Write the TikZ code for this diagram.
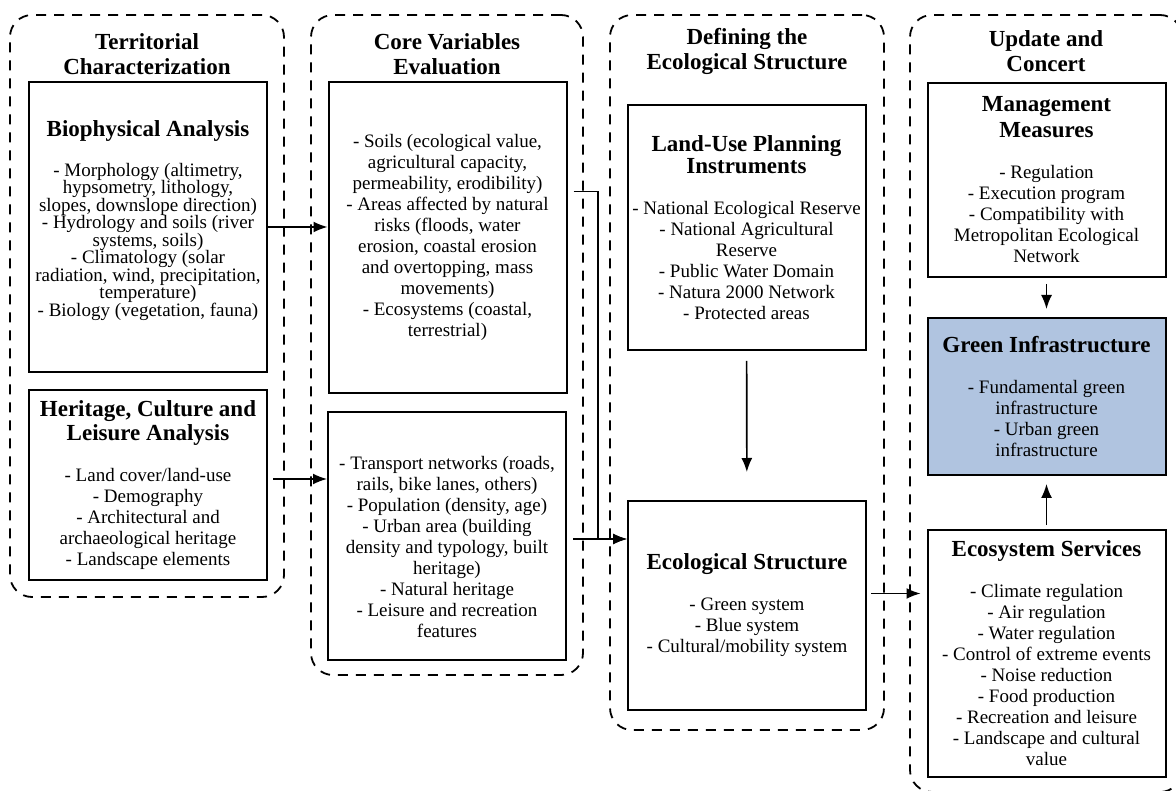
\documentclass[tikz,border=0pt]{standalone}
\usepackage{fontspec}
\setmainfont{Liberation Serif}
\usetikzlibrary{arrows.meta}
\definecolor{giblue}{RGB}{176,196,224}
\tikzset{
  stage/.style={draw, dash pattern=on 10pt off 8pt, line width=1.8pt, rounded corners=22pt},
  title/.style={align=center, font=\fontsize{23}{25}\selectfont\bfseries},
  card/.style={draw, line width=2pt, align=center, inner sep=3pt,
    minimum width=238pt, font=\fontsize{19}{21}\selectfont},
  link/.style={-{Latex[length=14pt,width=11pt]}, line width=1.6pt},
}
\newcommand{\hd}[1]{{\fontsize{23}{25}\selectfont\bfseries #1}}
\newcommand{\tightlines}{\fontsize{19}{17.5}\selectfont\lineskiplimit=-20pt\relax\lineskip=0pt\relax}
\begin{document}
\begin{tikzpicture}[x=1pt,y=-1pt]
    \useasboundingbox (0,0) rectangle (1176,791);
    % dashed stage frames
    \node[stage, minimum width=274pt, minimum height=582pt] (st1) at (147,306) {};
    \node[stage, minimum width=272pt, minimum height=660pt] (st2) at (447,345) {};
    \node[stage, minimum width=274pt, minimum height=715pt] (st3) at (747,372.5) {};
    \node[stage, minimum width=272pt, minimum height=777pt] (st4) at (1046,403.5) {};
    \node[title] (t1) at (147,54) {Territorial\\Characterization};
    \node[title] (t2) at (447,54) {Core Variables\\Evaluation};
    \node[title] (t3) at (747,51) {Defining the\\Ecological Structure};
    \node[title] (t4) at (1046,51) {Update and\\Concert};
    % stage 1
    \node[card, minimum height=290pt, font=\tightlines] (bio) at (148,227) {\hd{Biophysical Analysis}\\[22pt]
        - Morphology (altimetry,\\ hypsometry, lithology,\\ slopes, downslope direction)\\
        - Hydrology and soils (river\\ systems, soils)\\ - Climatology (solar\\
        radiation, wind, precipitation,\\ temperature)\\ - Biology (vegetation, fauna)\\[-1pt]\mbox{}};
    \node[card, minimum height=190pt] (her) at (148,485) {\hd{Heritage, Culture and}\\[2pt] \hd{Leisure Analysis}\\[20pt]
        - Land cover/land-use\\ - Demography\\ - Architectural and\\ archaeological heritage\\ - Landscape elements};
    % stage 2
    \node[card, minimum height=311pt] (soil) at (447.5,237.5) {- Soils (ecological value,\\ agricultural capacity,\\
        permeability, erodibility)\\ - Areas affected by natural\\ risks (floods, water\\ erosion, coastal erosion\\
        and overtopping, mass\\ movements)\\ - Ecosystems (coastal,\\ terrestrial)};
    \node[card, minimum height=248pt] (soc) at (447,536) {\mbox{}\\[15pt] - Transport networks (roads,\\ rails, bike lanes, others)\\
        - Population (density, age)\\ - Urban area (building\\ density and typology, built\\ heritage)\\
        - Natural heritage\\ - Leisure and recreation\\ features};
    % stage 3
    \node[card, minimum height=245pt] (lup) at (746.5,227.5) {\hd{Land-Use Planning}\\[1pt] \hd{Instruments}\\[20pt]
        - National Ecological Reserve\\ - National Agricultural\\ Reserve\\ - Public Water Domain\\
        - Natura 2000 Network\\ - Protected areas};
    \node[card, minimum height=209pt] (eco) at (747,605.5) {\hd{Ecological Structure}\\[20pt]
        - Green system\\ - Blue system\\ - Cultural/mobility system};
    % stage 4
    \node[card, minimum height=194pt] (mgmt) at (1046.5,180) {\hd{Management}\\[5pt] \hd{Measures}\\[20pt]
        - Regulation\\ - Execution program\\ - Compatibility with\\ Metropolitan Ecological\\ Network};
    \node[card, minimum height=157pt, fill=giblue] (gi) at (1046.5,396.5) {\hd{Green Infrastructure}\\[20pt]
        - Fundamental green\\ infrastructure\\ - Urban green\\ infrastructure};
    \node[card, minimum height=247pt] (es) at (1046.5,653.5) {\hd{Ecosystem Services}\\[20pt]
        - Climate regulation\\ - Air regulation\\ - Water regulation\\ - Control of extreme events\\
        - Noise reduction\\ - Food production\\ - Recreation and leisure\\ - Landscape and cultural\\ value};
    % connectors
    \coordinate (join) at (598,539);
    \draw[link] (bio.east) -- (bio.east -| soil.west);
    \draw[link, shorten <=5pt] ([yshift=6pt]her.east) -- ([yshift=6pt]her.east -| soc.west);
    \draw[link, shorten <=6pt] ([yshift=46pt]soil.east) -| (join) -- (join -| eco.west);
    \draw[link, shorten <=6pt] (soc.east |- join) -- (join -| eco.west);
    \draw[link, shorten <=10pt, shorten >=28pt] (lup) -- (eco);
    \draw[link, shorten <=4pt, shorten >=6pt] ([yshift=12pt]eco.east) -- ([yshift=12pt]eco.east -| es.west);
    \draw[link, shorten <=6pt, shorten >=8pt] (mgmt) -- (gi);
    \draw[link, shorten <=4pt, shorten >=8pt] (es) -- (gi);
\end{tikzpicture}
\end{document}
